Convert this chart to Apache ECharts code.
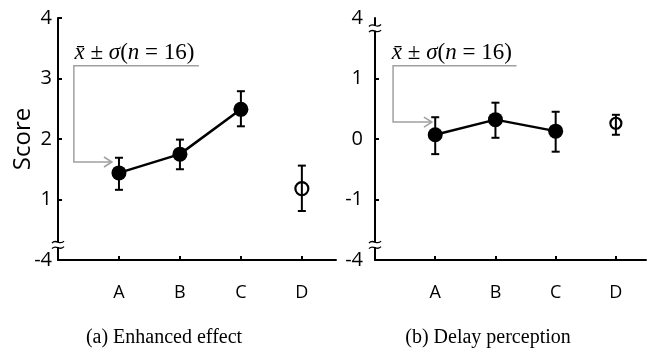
<!DOCTYPE html>
<html><head><meta charset="utf-8">
<script src="https://cdn.jsdelivr.net/npm/echarts@6/dist/echarts.min.js"></script>
<style>html,body{margin:0;padding:0;background:#fff}#c{width:648px;height:358px}</style>
</head><body><div id="c"></div>
<script>
// ---- data ----
const categories = ['A', 'B', 'C', 'D'];
const catX = [1, 2, 3, 4];
const enhMean = [1.44, 1.75, 2.49, 1.18];
const enhLow  = [1.16, 1.50, 2.21, 0.81];
const enhHigh = [1.69, 1.99, 2.79, 1.56];
const delMean = [0.07, 0.32, 0.13, 0.26];
const delLow  = [-0.25, 0.02, -0.21, 0.07];
const delHigh = [0.36, 0.60, 0.45, 0.40];
const enhYTicks = [0, 1, 2, 3, 4];
const enhYLabels = ['-4', '1', '2', '3', '4'];
const delYTicks = [-2, -1, 0, 1, 2];
const delYLabels = ['-4', '-1', '0', '1', '4'];
const titles = ['(a) Enhanced effect', '(b) Delay perception'];
const yName = 'Score';

const chart = echarts.init(document.getElementById('c'), null, {renderer: 'canvas'});
const SANS = '"Open Sans", sans-serif';
const SERIF = '"Liberation Serif", "Times New Roman", serif';

function pairs(xs, ys) { return xs.map((x, i) => [x, ys[i]]); }
function errData(xs, lo, hi) { return xs.map((x, i) => [x, lo[i], hi[i]]); }

function errRender(params, api) {
  const x = api.value(0), lo = api.value(1), hi = api.value(2);
  const p1 = api.coord([x, lo]), p2 = api.coord([x, hi]);
  const w = 4;
  const st = {stroke: '#000', lineWidth: 2};
  return {type: 'group', children: [
    {type: 'line', shape: {x1: p1[0], y1: p1[1], x2: p2[0], y2: p2[1]}, style: st},
    {type: 'line', shape: {x1: p1[0] - w, y1: p1[1], x2: p1[0] + w, y2: p1[1]}, style: st},
    {type: 'line', shape: {x1: p2[0] - w, y1: p2[1], x2: p2[0] + w, y2: p2[1]}, style: st}
  ]};
}

function xAxisCfg(idx, max) {
  return {
    type: 'value', gridIndex: idx, min: 0, max: max,
    axisLine: {onZero: false, lineStyle: {color: '#000', width: 2}},
    axisTick: {inside: true, length: 4, customValues: catX, lineStyle: {color: '#000', width: 2}},
    axisLabel: {customValues: catX, formatter: v => categories[Math.round(v) - 1] || '',
      color: '#000', fontFamily: SANS, fontSize: 18, margin: 24},
    splitLine: {show: false}
  };
}
function yAxisCfg(idx, min, max, ticks, labels, tickVals, margin, name) {
  const cfg = {
    type: 'value', gridIndex: idx, min: min, max: max,
    axisLine: {onZero: false, lineStyle: {color: '#000', width: 2}},
    axisTick: {inside: true, length: 4, customValues: tickVals, lineStyle: {color: '#000', width: 2}},
    axisLabel: {customValues: ticks, formatter: v => labels[ticks.indexOf(Math.round(v))],
      color: '#000', fontFamily: SANS, fontSize: 20, margin: margin},
    splitLine: {show: false}
  };
  if (name) {
    cfg.name = name; cfg.nameLocation = 'middle'; cfg.nameGap = 23; cfg.nameMoveOverlap = false;
    cfg.nameTextStyle = {color: '#000', fontFamily: SANS, fontSize: 24};
  }
  return cfg;
}

function panelSeries(idx, mean, lo, hi, dSize) {
  return [
    {type: 'custom', xAxisIndex: idx, yAxisIndex: idx, renderItem: errRender,
      encode: {x: 0, y: [1, 2]}, data: errData(catX, lo, hi), z: 5, silent: true},
    {type: 'line', xAxisIndex: idx, yAxisIndex: idx, data: pairs(catX.slice(0, 3), mean.slice(0, 3)),
      symbol: 'circle', symbolSize: 15, lineStyle: {color: '#000', width: 2.5},
      itemStyle: {color: '#000', borderWidth: 0}, z: 3, silent: true},
    {type: 'scatter', xAxisIndex: idx, yAxisIndex: idx, data: [[catX[3], mean[3]]],
      symbol: 'circle', symbolSize: dSize, itemStyle: {color: 'rgba(255,255,255,0)', borderColor: '#000', borderWidth: 2.2, opacity: 1},
      z: 4, silent: true}
  ];
}

chart.setOption({
  animation: false,
  backgroundColor: '#fff',
  grid: [
    {left: 58, top: 18, width: 278, height: 242},
    {left: 375, top: 18, width: 271, height: 242}
  ],
  xAxis: [xAxisCfg(0, 4.56), xAxisCfg(1, 4.5)],
  yAxis: [
    yAxisCfg(0, 0, 4, enhYTicks, enhYLabels, [1, 2, 3, 4], 6, yName),
    yAxisCfg(1, -2, 2, delYTicks, delYLabels, [-1, 0, 1], 12, null)
  ],
  series: [].concat(panelSeries(0, enhMean, enhLow, enhHigh, 13), panelSeries(1, delMean, delLow, delHigh, 11))
});

// annotations (in data coordinates of each panel)
const annots = [
  {grid: 0, text: [0.27, 3.43], path: [[2.31, 3.21], [0.26, 3.21], [0.26, 1.62], [0.885, 1.62]], breaks: [0.25]},
  {grid: 1, text: [0.28, 1.43], path: [[2.35, 1.21], [0.30, 1.21], [0.30, 0.28], [0.945, 0.28]], breaks: [1.83, -1.75]}
];
const titleX = [164, 488];

function px(g, p) { return chart.convertToPixel({gridIndex: g}, p); }
const els = [];
annots.forEach((a, gi) => {
  const pts = a.path.map(p => px(a.grid, p));
  els.push({type: 'polyline', shape: {points: pts}, style: {stroke: '#a0a0a0', lineWidth: 1.5, fill: null}, z: 10});
  const tip = pts[pts.length - 1];
  els.push({type: 'polyline', shape: {points: [[tip[0] - 8, tip[1] - 5], tip, [tip[0] - 8, tip[1] + 5]]},
    style: {stroke: '#a0a0a0', lineWidth: 1.5, fill: null}, z: 10});
  const tp = px(a.grid, a.text);
  els.push({type: 'text', x: tp[0], y: tp[1], z: 10, style: {
    text: '{i|x\u0304} ± {i|σ}({i|n} = 16)', fontFamily: SERIF, fontSize: 23, fill: '#000',
    verticalAlign: 'middle', align: 'left',
    rich: {i: {fontStyle: 'italic', fontFamily: SERIF, fontSize: 23}}}});
  a.breaks.forEach(b => {
    const p = px(a.grid, [0, b]);
    const x = p[0], y = p[1];
    els.push({type: 'rect', shape: {x: x - 3, y: y - 2.5, width: 6, height: 5}, style: {fill: '#fff'}, z: 20});
    [-2.8, 2.8].forEach(dy => {
      els.push({type: 'bezierCurve', shape: {x1: x - 6, y1: y + dy + 1, cpx1: x - 2, cpy1: y + dy - 4, cpx2: x + 2, cpy2: y + dy + 4, x2: x + 6, y2: y + dy - 1},
        style: {stroke: '#000', lineWidth: 1.3, fill: null}, z: 21});
    });
  });
  els.push({type: 'text', x: titleX[gi], y: 338, z: 10, style: {
    text: titles[gi], fontFamily: SERIF, fontSize: 20, fill: '#000', align: 'center', verticalAlign: 'middle'}});
});
chart.setOption({graphic: {elements: els}});
</script>
</body></html>
